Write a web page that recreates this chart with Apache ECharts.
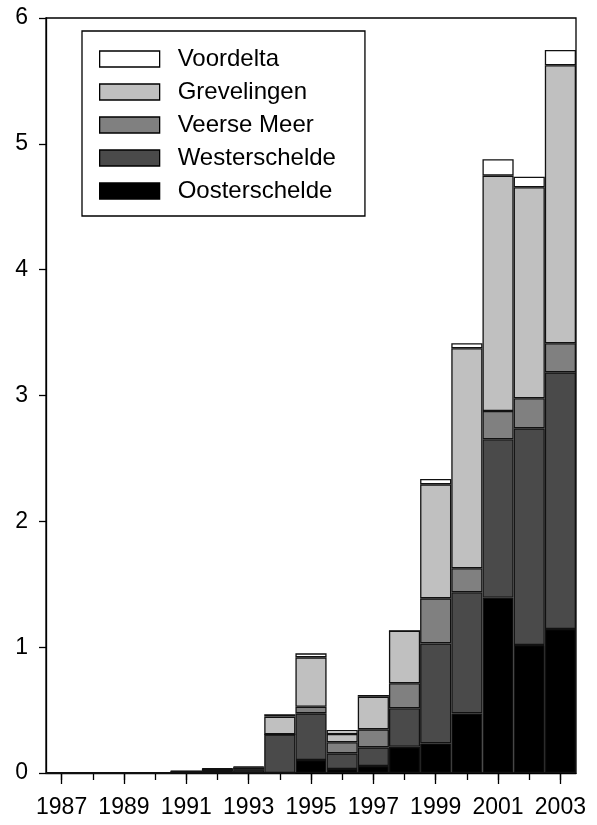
<!DOCTYPE html>
<html>
<head>
<meta charset="utf-8">
<script src="https://cdn.jsdelivr.net/npm/echarts@6/dist/echarts.min.js"></script>
<style>
  html, body { margin: 0; padding: 0; background: #fff; }
  #chart { width: 597px; height: 825px; }
</style>
</head>
<body>
<div id="chart"></div>
<script>
// Years on the horizontal axis
const years = ['1987','1988','1989','1990','1991','1992','1993','1994','1995',
               '1996','1997','1998','1999','2000','2001','2002','2003'];

// Stacked layers, bottom to top
const oosterschelde = [0,0,0,0,0,0,0,0,0.103,0.032,0.056,0.208,0.236,0.474,1.393,1.017,1.144];
const westerschelde = [0,0,0,0,0.012,0.012,0.022,0.307,0.371,0.124,0.148,0.306,0.794,0.962,1.259,1.722,2.040];
const veerseMeer    = [0,0,0,0,0,0.003,0.004,0,0.053,0.088,0.143,0.199,0.358,0.191,0.225,0.239,0.231];
const grevelingen   = [0,0,0,0,0,0.018,0.020,0.141,0.392,0.066,0.260,0.417,0.906,1.748,1.870,1.677,2.209];
const voordelta     = [0,0,0,0,0,0.004,0.006,0.019,0.032,0.032,0.013,0,0.042,0.040,0.130,0.084,0.122];

const yTicks = [0, 1, 2, 3, 4, 5, 6];

const FONT = 'Liberation Sans';

function layer(name, data, color) {
  return {
    name: name,
    type: 'bar',
    stack: 'total',
    data: data,
    barWidth: '100%',
    barCategoryGap: '0%',
    itemStyle: { color: color, borderColor: '#111', borderWidth: 1.3 },
    emphasis: { disabled: true }
  };
}

const chart = echarts.init(document.getElementById('chart'), null, { renderer: 'canvas' });

chart.setOption({
  animation: false,
  backgroundColor: '#fff',
  grid: {
    left: 46, right: 21, top: 18, bottom: 52,
    show: true, borderColor: '#000', borderWidth: 1.3, backgroundColor: 'transparent'
  },
  legend: {
    orient: 'vertical',
    left: 82, top: 31,
    padding: [16, 29, 13, 17],
    borderColor: '#000', borderWidth: 1.3,
    backgroundColor: '#fff',
    itemWidth: 60, itemHeight: 16, itemGap: 9,
    icon: 'rect',
    selectedMode: false,
    itemStyle: { borderColor: '#000', borderWidth: 1.3 },
    textStyle: { fontFamily: FONT, fontSize: 24, color: '#000', lineHeight: 24, padding: [0, 0, 0, 13] },
    data: ['Voordelta', 'Grevelingen', 'Veerse Meer', 'Westerschelde', 'Oosterschelde']
  },
  xAxis: [
    {
      type: 'category',
      data: years,
      position: 'bottom',
      boundaryGap: true,
      axisLine: { show: true, lineStyle: { color: '#000', width: 1.3 } },
      axisTick: { show: true, alignWithLabel: true, interval: 1, length: 11, lineStyle: { color: '#000', width: 1.3 } },
      axisLabel: { interval: 1, margin: 23, fontFamily: FONT, fontSize: 23, color: '#000' },
      splitLine: { show: false }
    },
    {
      type: 'category',
      data: years,
      position: 'bottom',
      boundaryGap: true,
      axisLine: { show: false },
      axisTick: { show: true, alignWithLabel: true, interval: 0, length: 7, lineStyle: { color: '#000', width: 1.3 } },
      axisLabel: { show: false },
      splitLine: { show: false }
    }
  ],
  yAxis: {
    type: 'value',
    min: yTicks[0],
    max: yTicks[yTicks.length - 1],
    interval: 1,
    axisLine: { show: true, lineStyle: { color: '#000', width: 1.3 } },
    axisTick: { show: true, length: 7, lineStyle: { color: '#000', width: 1.3 } },
    axisLabel: { margin: 18, fontFamily: FONT, fontSize: 23, color: '#000' },
    splitLine: { show: false }
  },
  series: [
    layer('Oosterschelde', oosterschelde, '#000000'),
    layer('Westerschelde', westerschelde, '#4a4a4a'),
    layer('Veerse Meer', veerseMeer, '#808080'),
    layer('Grevelingen', grevelingen, '#c0c0c0'),
    layer('Voordelta', voordelta, '#ffffff')
  ]
});
</script>
</body>
</html>
